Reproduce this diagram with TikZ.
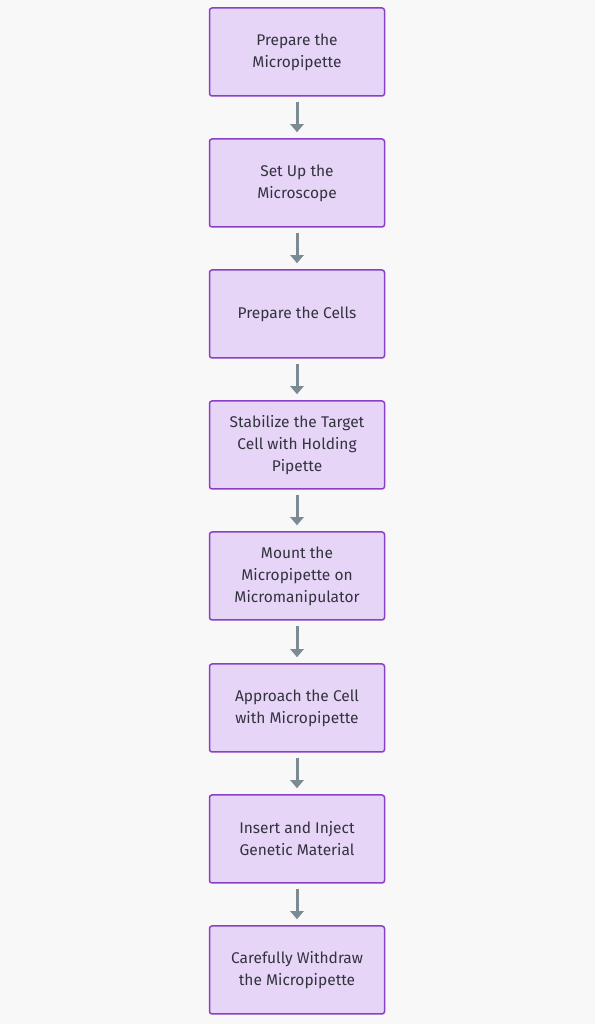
\documentclass[tikz,border=0pt]{standalone}
\usepackage{fontspec}
\setmainfont{Fira Sans}
\usetikzlibrary{arrows.meta}
\definecolor{stepfill}{HTML}{E6D5F7}
\definecolor{stepdraw}{HTML}{8B3FC8}
\definecolor{arrowgray}{HTML}{7B8A93}
\definecolor{textgray}{HTML}{33333F}
\definecolor{bggray}{HTML}{F8F8F8}
\tikzset{
  stepbox/.style={draw=stepdraw, fill=stepfill, line width=1.5pt, rounded corners=2.5pt,
    minimum width=175pt, minimum height=88pt, align=center, text=textgray,
    font=\fontsize{15.5}{22}\selectfont},
  flow/.style={draw=arrowgray, line width=3pt, -{Triangle[width=13pt,length=8pt]}, shorten <=5pt, shorten >=6pt}
}
\begin{document}
\begin{tikzpicture}[x=1pt,y=1pt]
    \fill[bggray] (0,0) rectangle (595,1024);
    \useasboundingbox (0,0) rectangle (595,1024);
    \foreach \i/\ytop/\txt in {1/52/{Prepare the\\Micropipette},
                               2/183/{Set Up the\\Microscope},
                               3/314/{Prepare the Cells},
                               4/445/{Stabilize the Target\\Cell with Holding\\Pipette},
                               5/576/{Mount the\\Micropipette on\\Micromanipulator},
                               6/708/{Approach the Cell\\with Micropipette},
                               7/839/{Insert and Inject\\Genetic Material},
                               8/970/{Carefully Withdraw\\the Micropipette}}
    \node[stepbox] (s\i) at (297,1024-\ytop) {\txt};
    %\draw[loosely dotted] (0,0) grid (595,1024);
    \foreach \a/\b in {1/2, 2/3, 3/4, 4/5, 5/6, 6/7, 7/8}
    \draw[flow] (s\a) -- (s\b);
\end{tikzpicture}
\end{document}
